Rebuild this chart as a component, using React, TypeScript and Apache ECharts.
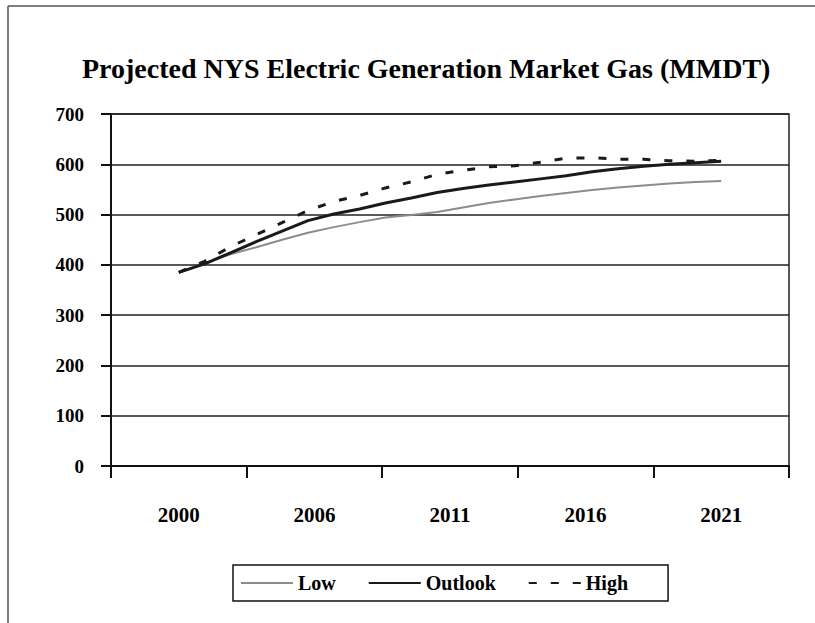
import React, { useEffect, useRef } from "react";
import * as echarts from "echarts";

const titleText = "Projected NYS Electric Generation Market Gas (MMDT)";
const axisLabels = ["2000", "2006", "2011", "2016", "2021"];
const years = [
  2000, 2001, 2002, 2003, 2004, 2005, 2006, 2007, 2008, 2009, 2010,
  2011, 2012, 2013, 2014, 2015, 2016, 2017, 2018, 2019, 2020, 2021,
];
const lowValues = [
  385, 403, 421, 435, 450, 464, 475, 485, 494, 499, 505,
  514, 523, 530, 537, 543, 549, 554, 558, 562, 565, 567,
];
const outlookValues = [
  385, 402, 424, 446, 467, 488, 501, 511, 523, 533, 544,
  552, 559, 565, 571, 577, 585, 591, 596, 600, 603, 606,
];
const highValues = [
  385, 407, 436, 460, 484, 508, 526, 538, 553, 565, 580,
  588, 595, 597, 604, 612, 613, 610, 610, 607, 606, 608,
];
const yTicks = { min: 0, max: 700, interval: 100 };

const FONT = "'Liberation Serif', 'Times New Roman', serif";

export default function App() {
  const ref = useRef<HTMLDivElement>(null);

  useEffect(() => {
    if (!ref.current) return;
    const chart = echarts.init(ref.current, undefined, { renderer: "svg" });
    const first = years[0];
    const last = years[years.length - 1];
    const pad = (last - first) / (2 * (axisLabels.length - 1));
    const toPairs = (vals: number[]) => years.map((y, i) => [y, vals[i]]);

    chart.setOption({
      animation: false,
      backgroundColor: "#ffffff",
      title: {
        text: titleText,
        left: 77,
        top: 49,
        textStyle: {
          fontFamily: FONT,
          fontWeight: "bold",
          fontSize: 28,
          color: "#000",
        },
      },
      graphic: [
        {
          type: "line",
          shape: { x1: 8, y1: 6, x2: 815, y2: 6 },
          style: { stroke: "#555", lineWidth: 1.5 },
        },
        {
          type: "line",
          shape: { x1: 8, y1: 6, x2: 8, y2: 623 },
          style: { stroke: "#555", lineWidth: 1.5 },
        },
      ],
      grid: {
        left: 111,
        right: 26,
        top: 114,
        bottom: 157,
        show: true,
        borderColor: "#222",
        borderWidth: 1.5,
        backgroundColor: "transparent",
      },
      legend: {
        left: 233,
        top: 565,
        orient: "horizontal",
        padding: [8, 40, 8, 7],
        borderColor: "#111",
        borderWidth: 1.5,
        itemWidth: 52,
        itemHeight: 14,
        itemGap: 32,
        itemStyle: {
          color: "rgba(0,0,0,0)",
          borderColor: "rgba(0,0,0,0)",
          borderWidth: 0,
          opacity: 0,
        },
        textStyle: {
          fontFamily: FONT,
          fontWeight: "bold",
          fontSize: 20,
          color: "#000",
        },
        data: ["Low", "Outlook", "High"],
      },
      xAxis: [
        {
          type: "category",
          data: axisLabels,
          boundaryGap: true,
          axisLine: { show: true, lineStyle: { color: "#111", width: 2 } },
          axisTick: {
            show: true,
            inside: false,
            length: 12,
            lineStyle: { color: "#111", width: 2 },
          },
          axisLabel: {
            margin: 38,
            fontFamily: FONT,
            fontWeight: "bold",
            fontSize: 21,
            color: "#000",
          },
          splitLine: { show: false },
        },
        {
          type: "value",
          min: first - pad,
          max: last + pad,
          show: false,
          splitLine: { show: false },
        },
      ],
      yAxis: {
        type: "value",
        min: yTicks.min,
        max: yTicks.max,
        interval: yTicks.interval,
        axisLine: { show: true, lineStyle: { color: "#111", width: 2 } },
        axisTick: {
          show: true,
          inside: false,
          length: 10,
          lineStyle: { color: "#111", width: 2 },
        },
        axisLabel: {
          margin: 27,
          fontFamily: FONT,
          fontWeight: "bold",
          fontSize: 19,
          color: "#000",
        },
        splitLine: { show: true, lineStyle: { color: "#222", width: 1.5 } },
      },
      series: [
        {
          name: "Low",
          type: "line",
          xAxisIndex: 1,
          data: toPairs(lowValues),
          symbol: "none",
          lineStyle: { color: "#8c8c8c", width: 2 },
          itemStyle: { color: "#8c8c8c" },
        },
        {
          name: "Outlook",
          type: "line",
          xAxisIndex: 1,
          data: toPairs(outlookValues),
          symbol: "none",
          lineStyle: { color: "#1a1a1a", width: 3 },
          itemStyle: { color: "#1a1a1a" },
        },
        {
          name: "High",
          type: "line",
          xAxisIndex: 1,
          data: toPairs(highValues),
          symbol: "none",
          lineStyle: { color: "#1a1a1a", width: 3, type: [8, 14] },
          itemStyle: { color: "#1a1a1a" },
        },
      ],
    });

    return () => chart.dispose();
  }, []);

  return (
    <div
      ref={ref}
      style={{ position: "fixed", left: 0, top: 0, width: 815, height: 623 }}
    />
  );
}
